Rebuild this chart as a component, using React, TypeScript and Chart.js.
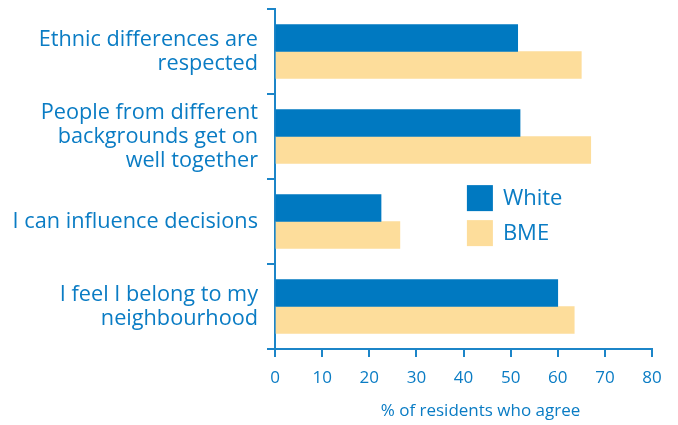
import React, { useEffect, useRef } from "react";
import { Chart, registerables } from "chart.js";

Chart.register(...registerables);

const categories: string[][] = [
  ["Ethnic differences are", "respected"],
  ["People from different", "backgrounds get on", "well together"],
  ["I can influence decisions"],
  ["I feel I belong to my", "neighbourhood"],
];
const whiteValues = [51.5, 52, 22.5, 60];
const bmeValues = [65, 67, 26.5, 63.5];
const seriesNames = ["White", "BME"];
const xTickValues = [0, 10, 20, 30, 40, 50, 60, 70, 80];
const xTitle = "% of residents who agree";

const BLUE = "#0079c1";
const SAND = "#fddd9b";
const TEXT = "#0a7cc4";
const AXIS = "#1c85c8";
const FONT = "'Open Sans', 'DejaVu Sans', sans-serif";

// Legend drawn inside the plot area, to the right of the third category
const insideLegend = {
  id: "insideLegend",
  afterDraw(chart: any) {
    const { ctx, chartArea } = chart;
    const x0 = chartArea.left + (chartArea.right - chartArea.left) * 0.509;
    const y0 = chartArea.top + (chartArea.bottom - chartArea.top) * 0.518;
    const box = 26;
    const gap = 35;
    ctx.save();
    ctx.font = `22px ${FONT}`;
    ctx.textBaseline = "middle";
    ctx.textAlign = "left";
    chart.data.datasets.forEach((ds: any, i: number) => {
      const y = y0 + i * gap;
      ctx.fillStyle = ds.backgroundColor;
      ctx.fillRect(x0, y, box, box);
      ctx.fillStyle = TEXT;
      ctx.fillText(ds.label, x0 + box + 10, y + box / 2 + 1);
    });
    ctx.restore();
  },
};

// Axis title under the x ticks, set slightly right of the plot centre
const xAxisTitle = {
  id: "xAxisTitle",
  afterDraw(chart: any) {
    const { ctx, chartArea } = chart;
    const cx = (chartArea.left + chartArea.right) / 2 + 17;
    ctx.save();
    ctx.font = `17px ${FONT}`;
    ctx.fillStyle = TEXT;
    ctx.textAlign = "center";
    ctx.textBaseline = "middle";
    ctx.fillText(xTitle, cx, chart.height - 14);
    ctx.restore();
  },
};

export default function App() {
  const canvasRef = useRef<HTMLCanvasElement | null>(null);

  useEffect(() => {
    document.body.style.margin = "0";
    const canvas = canvasRef.current;
    if (!canvas) return;
    const chart = new Chart(canvas, {
      type: "bar",
      data: {
        labels: categories,
        datasets: [
          {
            label: seriesNames[0],
            data: whiteValues,
            backgroundColor: BLUE,
            barThickness: 27,
          },
          {
            label: seriesNames[1],
            data: bmeValues,
            backgroundColor: SAND,
            barThickness: 27,
          },
        ],
      },
      options: {
        indexAxis: "y",
        animation: false,
        responsive: false,
        maintainAspectRatio: false,
        layout: { padding: { top: 9, right: 26, left: 0, bottom: 0 } },
        plugins: {
          legend: { display: false },
          tooltip: { enabled: false },
        },
        scales: {
          x: {
            type: "linear",
            min: 0,
            max: 80,
            afterBuildTicks: (scale: any) => {
              scale.ticks = xTickValues.map((v) => ({ value: v }));
            },
            afterFit: (scale: any) => {
              scale.height = 76;
              scale.paddingLeft = 0;
              scale.paddingRight = 0;
            },
            border: { display: true, color: AXIS, width: 2 },
            grid: {
              drawOnChartArea: false,
              drawTicks: true,
              tickLength: 8,
              color: AXIS,
              lineWidth: 2,
            },
            ticks: {
              color: TEXT,
              font: { family: FONT, size: 17 },
              padding: 11,
            },
          },
          y: {
            type: "category",
            afterFit: (scale: any) => {
              scale.width = 275;
              scale.paddingTop = 0;
              scale.paddingBottom = 0;
            },
            border: { display: true, color: AXIS, width: 2 },
            grid: {
              offset: true,
              drawOnChartArea: false,
              drawTicks: true,
              tickLength: 8,
              color: AXIS,
              lineWidth: 2,
            },
            ticks: {
              color: TEXT,
              font: { family: FONT, size: 21.7, lineHeight: 1.11 },
              padding: 9,
              autoSkip: false,
            },
          },
        },
      },
      plugins: [insideLegend, xAxisTitle],
    });
    return () => chart.destroy();
  }, []);

  return (
    <div style={{ width: 678, height: 425 }}>
      <canvas ref={canvasRef} width={678} height={425} style={{ display: "block" }} />
    </div>
  );
}
